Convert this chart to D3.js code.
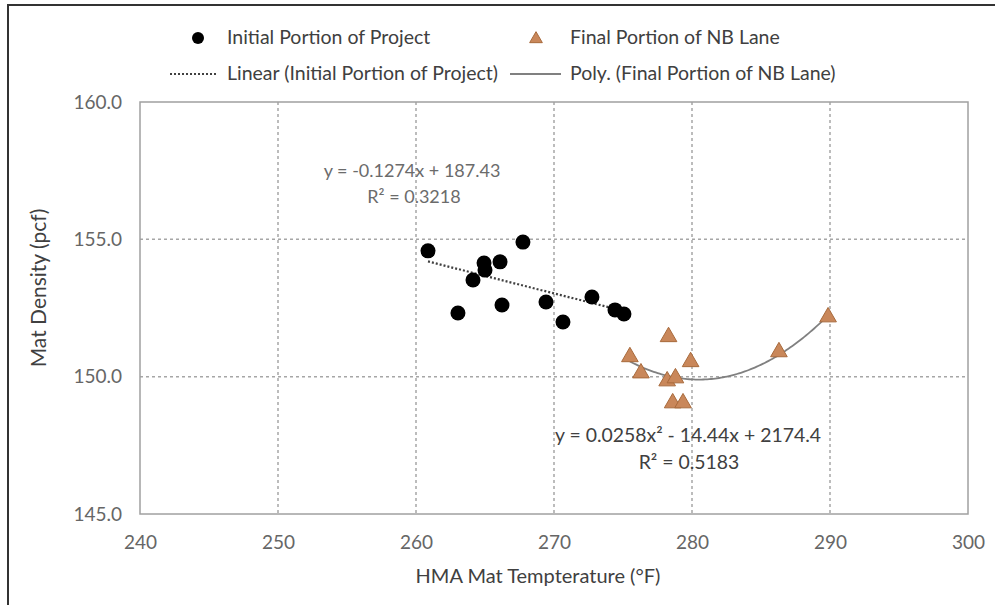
<!DOCTYPE html>
<html><head><meta charset="utf-8">
<script src="https://cdn.jsdelivr.net/npm/d3@7"></script>
<style>
html,body{margin:0;padding:0;background:#fff;}
text{font-family:Lato,"Open Sans",sans-serif;}
</style></head>
<body><svg id="c" width="995" height="605"></svg>
<script>
// Data
const initialTemp = [260.87, 263.04, 264.13, 264.93, 265.0, 266.09, 267.75, 266.23, 269.42, 270.65, 272.75, 274.42, 275.07];
const initialDensity = [154.58, 152.32, 153.52, 154.14, 153.88, 154.18, 154.90, 152.61, 152.72, 151.99, 152.90, 152.43, 152.28];
const finalTemp = [275.5, 278.3, 276.3, 278.2, 278.8, 279.9, 278.6, 279.35, 286.3, 289.86];
const finalDensity = [150.72, 151.45, 150.13, 149.84, 149.95, 150.54, 149.04, 149.04, 150.9, 152.17];
const xTicks = [240, 250, 260, 270, 280, 290, 300];
const yTicks = [145, 150, 155, 160];
const linearCoef = [-0.1274, 187.43];
const seriesNames = ["Initial Portion of Project", "Final Portion of NB Lane",
  "Linear (Initial Portion of Project)", "Poly. (Final Portion of NB Lane)"];
const eq1 = ["y = -0.1274x + 187.43", "R\u00B2 = 0.3218"];
const eq2 = ["y = 0.0258x\u00B2 - 14.44x + 2174.4", "R\u00B2 = 0.5183"];

const svg = d3.select("#c");
const L = 140, R = 968, T = 102, B = 514;
const x = d3.scaleLinear().domain([240, 300]).range([L, R]);
const y = d3.scaleLinear().domain([145, 160]).range([B, T]);

// outer frame
svg.append("rect").attr("x", 8).attr("y", 5).attr("width", 1000).attr("height", 700)
  .attr("fill", "none").attr("stroke", "#333").attr("stroke-width", 2);

// grid
const grid = svg.append("g");
grid.selectAll("line.v").data(xTicks.slice(1, -1)).join("line")
  .attr("x1", d => x(d)).attr("x2", d => x(d)).attr("y1", T).attr("y2", B)
  .attr("stroke", "#a6a6a6").attr("stroke-width", 1.5).attr("stroke-dasharray", "3,3");
grid.selectAll("line.h").data(yTicks.slice(1, -1)).join("line")
  .attr("y1", d => y(d)).attr("y2", d => y(d)).attr("x1", L).attr("x2", R)
  .attr("stroke", "#a6a6a6").attr("stroke-width", 1.5).attr("stroke-dasharray", "3,3");
svg.append("rect").attr("x", L).attr("y", T).attr("width", R - L).attr("height", B - T)
  .attr("fill", "none").attr("stroke", "#a0a0a0").attr("stroke-width", 1.5);

// axes labels
const xa = svg.append("g").attr("transform", `translate(0,${B})`)
  .call(d3.axisBottom(x).tickValues(xTicks).tickSize(0).tickPadding(22).tickFormat(d3.format("d")));
const ya = svg.append("g").attr("transform", `translate(${L},0)`)
  .call(d3.axisLeft(y).tickValues(yTicks).tickSize(0).tickPadding(18).tickFormat(d3.format(".1f")));
[xa, ya].forEach(a => {
  a.select(".domain").remove();
  a.selectAll("text").attr("fill", "#666").style("font-size", "19px").style("font-family", "Lato, sans-serif");
});

svg.append("text").attr("x", 538).attr("y", 583).attr("text-anchor", "middle")
  .attr("fill", "#404040").style("font-size", "20px").text("HMA Mat Tempterature (\u00B0F)");
svg.append("text").attr("transform", `translate(46,288) rotate(-90)`)
  .attr("text-anchor", "middle").attr("fill", "#404040").style("font-size", "21px").text("Mat Density (pcf)");

// linear trend
const xe1 = d3.extent(initialTemp);
const linFn = v => linearCoef[0] * v + linearCoef[1];
svg.append("line").attr("x1", x(xe1[0])).attr("y1", y(linFn(xe1[0])))
  .attr("x2", x(xe1[1])).attr("y2", y(linFn(xe1[1])))
  .attr("stroke", "#404040").attr("stroke-width", 2.2).attr("stroke-dasharray", "2,2");

// polynomial least squares fit (order 2) from final data
function polyFit(xs, ys) {
  const n = xs.length, xm = d3.mean(xs);
  const u = xs.map(v => v - xm);
  let S = [[0,0,0],[0,0,0],[0,0,0]], b = [0,0,0];
  for (let i = 0; i < n; i++) {
    const p = [1, u[i], u[i] * u[i]];
    for (let r = 0; r < 3; r++) { b[r] += p[r] * ys[i]; for (let c = 0; c < 3; c++) S[r][c] += p[r] * p[c]; }
  }
  for (let i = 0; i < 3; i++) {
    for (let k = i + 1; k < 3; k++) {
      const f = S[k][i] / S[i][i];
      for (let c = i; c < 3; c++) S[k][c] -= f * S[i][c];
      b[k] -= f * b[i];
    }
  }
  const s = [0,0,0];
  for (let i = 2; i >= 0; i--) { let t = b[i]; for (let c = i + 1; c < 3; c++) t -= S[i][c] * s[c]; s[i] = t / S[i][i]; }
  return v => s[0] + s[1] * (v - xm) + s[2] * (v - xm) * (v - xm);
}
const pf = polyFit(finalTemp, finalDensity);
const xe2 = d3.extent(finalTemp);
const curve = d3.range(0, 101).map(i => xe2[0] + (xe2[1] - xe2[0]) * i / 100);
svg.append("path").datum(curve)
  .attr("d", d3.line().x(d => x(d)).y(d => y(pf(d))))
  .attr("fill", "none").attr("stroke", "#808080").attr("stroke-width", 1.8);

// points
svg.append("g").selectAll("circle").data(initialTemp.map((t, i) => [t, initialDensity[i]])).join("circle")
  .attr("cx", d => x(d[0])).attr("cy", d => y(d[1])).attr("r", 7.5).attr("fill", "#000");
const tri = d3.symbol().type(d3.symbolTriangle).size(120);
svg.append("g").selectAll("path").data(finalTemp.map((t, i) => [t, finalDensity[i]])).join("path")
  .attr("transform", d => `translate(${x(d[0])},${y(d[1])})`).attr("d", tri)
  .attr("fill", "#c9875a").attr("stroke", "#a86a3c").attr("stroke-width", 1);

// equations
const e1 = svg.append("text").attr("text-anchor", "middle").attr("fill", "#6b6b6b").style("font-size", "18px");
e1.append("tspan").attr("x", 412).attr("y", 177).text(eq1[0]);
e1.append("tspan").attr("x", 414).attr("y", 203).text(eq1[1]);
const e2 = svg.append("text").attr("text-anchor", "middle").attr("fill", "#404040").style("font-size", "19.4px");
e2.append("tspan").attr("x", 688).attr("y", 442).text(eq2[0]);
e2.append("tspan").attr("x", 689).attr("y", 469).text(eq2[1]);

// legend
const lg = svg.append("g").style("font-size", "19.5px").attr("fill", "#404040");
lg.append("circle").attr("cx", 198).attr("cy", 38).attr("r", 6).attr("fill", "#000");
lg.append("text").attr("x", 227).attr("y", 44).text(seriesNames[0]);
lg.append("path").attr("transform", "translate(536,39)").attr("d", d3.symbol().type(d3.symbolTriangle).size(70))
  .attr("fill", "#c9875a").attr("stroke", "#a86a3c");
lg.append("text").attr("x", 570).attr("y", 44).text(seriesNames[1]);
lg.append("line").attr("x1", 170).attr("x2", 217).attr("y1", 74).attr("y2", 74)
  .attr("stroke", "#404040").attr("stroke-width", 2).attr("stroke-dasharray", "2,2");
lg.append("text").attr("x", 227).attr("y", 80).text(seriesNames[2]);
lg.append("line").attr("x1", 510).attr("x2", 561).attr("y1", 74).attr("y2", 74)
  .attr("stroke", "#808080").attr("stroke-width", 1.8);
lg.append("text").attr("x", 570).attr("y", 80).text(seriesNames[3]);
</script></body></html>
